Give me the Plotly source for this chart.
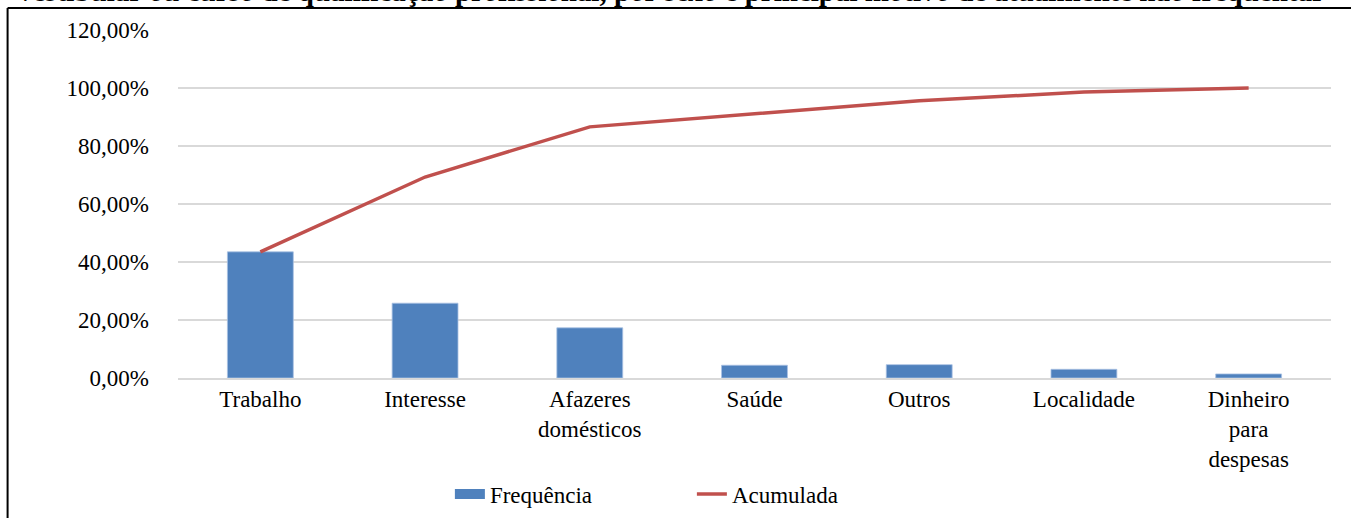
"""
Pareto chart: principal motivo de atualmente não frequentar
Bars for frequency share, line for cumulative share.
"""

import plotly.graph_objects as go

categorias = [
    "Trabalho",
    "Interesse",
    "Afazeres<br>domésticos",
    "Saúde",
    "Outros",
    "Localidade",
    "Dinheiro<br>para<br>despesas",
]
frequencia = [43.5, 25.8, 17.3, 4.4, 4.6, 3.0, 1.4]
acumulada = [43.5, 69.3, 86.6, 91.0, 95.6, 98.6, 100.0]

titulo = (
    "vestibular ou curso de qualificação profissional, por sexo e principal "
    "motivo de atualmente não frequentar"
)

AZUL = "#4F81BD"
VERMELHO = "#C0504D"
GRADE = "#D9D9D9"
FONTE = "Liberation Serif"
TAM = 23

fig = go.Figure()

fig.add_trace(
    go.Bar(
        x=categorias,
        y=frequencia,
        marker=dict(color=AZUL, line=dict(color="#A9C2E3", width=0.8)),
        width=0.4,
        name="Frequência",
        showlegend=False,
    )
)

# legend proxy so the swatch is a wide rectangle like the original
fig.add_trace(
    go.Scatter(
        x=[None],
        y=[None],
        mode="lines",
        line=dict(color=AZUL, width=14),
        name="Frequência",
    )
)

fig.add_trace(
    go.Scatter(
        x=categorias,
        y=acumulada,
        mode="lines",
        line=dict(color=VERMELHO, width=3.5),
        name="Acumulada",
    )
)

fig.update_layout(
    width=1351,
    height=518,
    margin=dict(l=178, r=20, t=30, b=140, autoexpand=False),
    paper_bgcolor="white",
    plot_bgcolor="white",
    separators=",.",
    font=dict(family=FONTE, size=TAM, color="#000000"),
    showlegend=True,
    legend=dict(
        orientation="h",
        xref="container",
        yref="container",
        x=0.333,
        xanchor="left",
        y=0.046,
        yanchor="middle",
        font=dict(family=FONTE, size=TAM),
        itemwidth=30,
        entrywidth=197,
        tracegroupgap=0,
    ),
)

fig.update_yaxes(
    range=[0, 120],
    dtick=20,
    tickformat=".2f",
    ticksuffix="%",
    showgrid=True,
    gridcolor=GRADE,
    gridwidth=1.5,
    zeroline=False,
    showline=False,
    ticks="",
    ticklabelstandoff=28,
    tickfont=dict(family=FONTE, size=TAM),
    automargin=False,
)

fig.update_xaxes(
    showline=True,
    linecolor=GRADE,
    linewidth=1.5,
    ticks="",
    showgrid=False,
    tickangle=0,
    tickfont=dict(family=FONTE, size=TAM),
    automargin=False,
)

# cropped source title at the very top
fig.add_annotation(
    text="<b>" + titulo + "</b>",
    xref="paper",
    yref="paper",
    x=0.428,
    y=1.0603,
    xanchor="center",
    yanchor="bottom",
    showarrow=False,
    font=dict(family=FONTE, size=29, color="#000000"),
)

# frame around the chart (left and top edges visible)
fig.add_shape(
    type="line",
    xref="paper",
    yref="paper",
    x0=-0.1478,
    x1=-0.1478,
    y0=1.0632,
    y1=-0.45,
    line=dict(color="#000000", width=2),
)
fig.add_shape(
    type="line",
    xref="paper",
    yref="paper",
    x0=-0.1478,
    x1=1.05,
    y0=1.0632,
    y1=1.0632,
    line=dict(color="#000000", width=2),
)

fig.write_html(
    "out.html",
    config={"displayModeBar": False},
    post_script="document.body.style.margin='0px';",
)
